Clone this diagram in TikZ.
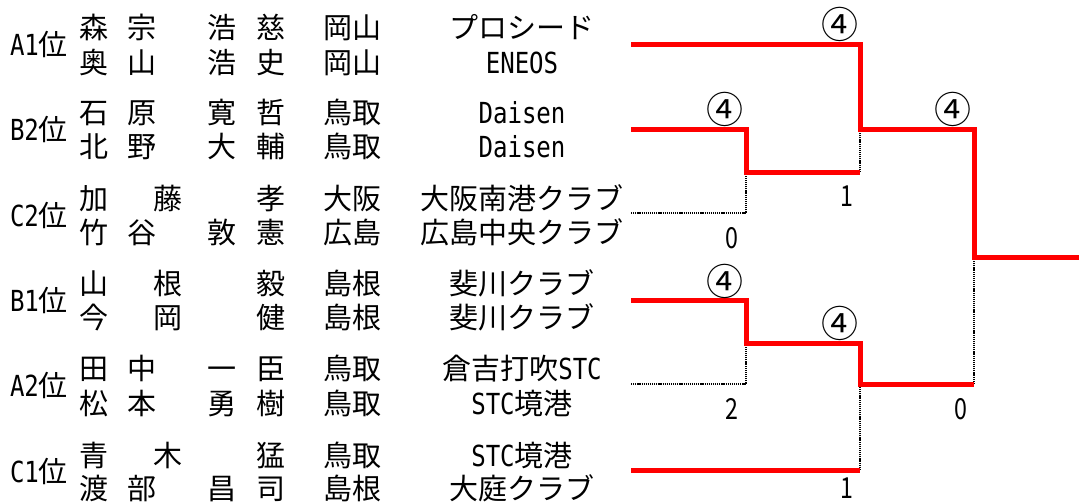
\documentclass[tikz,border=0pt]{standalone}
\usepackage{fontspec}
\setmainfont{Noto Sans CJK JP}
\newfontfamily\lat[FakeStretch=0.83]{DejaVu Sans Mono}
\newfontfamily\digs[FakeStretch=0.8]{Noto Sans CJK JP}
\tikzset{
  txt/.style={inner sep=0pt, font=\fontsize{29}{29}\selectfont, text height=25.5pt, text depth=3.5pt},
  circ/.style={inner sep=0pt, font=\fontsize{37}{37}\selectfont},
  win/.style={draw=red, line width=5pt},
  lose/.style={draw=black, line width=2pt, dash pattern=on 1.2pt off 0.9pt},
}
% full row: id, y, c1, c2, c3, c4, pref, team
\newcommand\prow[8]{%
  \node[txt] (#1a) at (94,#2) {#3};
  \node[txt] (#1b) at (142,#2) {#4};
  \node[txt] (#1c) at (222,#2) {#5};
  \node[txt] (#1d) at (271,#2) {#6};
  \node[txt] (#1p) at (352,#2) {#7};
  \node[txt] (#1t) at (522,#2) {#8};
}
% three-character row: id, y, c1, middle, c4, pref, team
\newcommand\prowm[7]{%
  \node[txt] (#1a) at (94,#2) {#3};
  \node[txt] (#1m) at (168,#2) {#4};
  \node[txt] (#1d) at (271,#2) {#5};
  \node[txt] (#1p) at (352,#2) {#6};
  \node[txt] (#1t) at (522,#2) {#7};
}
\begin{document}
\begin{tikzpicture}[x=1pt,y=-1pt]
\useasboundingbox (0,0) rectangle (1079,501);
% seed labels
\node[txt] (lA1) at (39,44.5) {{\lat A1}位};
\node[txt] (lB2) at (39,129) {{\lat B2}位};
\node[txt] (lC2) at (39,215) {{\lat C2}位};
\node[txt] (lB1) at (39,300) {{\lat B1}位};
\node[txt] (lA2) at (39,385.5) {{\lat A2}位};
\node[txt] (lC1) at (39,471.5) {{\lat C1}位};
% players
\prow{r1}{27}{森}{宗}{浩}{慈}{岡山}{プロシード}
\prow{r2}{62}{奥}{山}{浩}{史}{岡山}{{\lat ENEOS}}
\prow{r3}{112}{石}{原}{寛}{哲}{鳥取}{{\lat Daisen}}
\prow{r4}{146}{北}{野}{大}{輔}{鳥取}{{\lat Daisen}}
\prowm{r5}{198}{加}{藤}{孝}{大阪}{大阪南港クラブ}
\prow{r6}{232}{竹}{谷}{敦}{憲}{広島}{広島中央クラブ}
\prowm{r7}{283}{山}{根}{毅}{島根}{斐川クラブ}
\prowm{r8}{317}{今}{岡}{健}{島根}{斐川クラブ}
\prow{r9}{368}{田}{中}{一}{臣}{鳥取}{倉吉打吹{\lat STC}}
\prow{r10}{403}{松}{本}{勇}{樹}{鳥取}{{\lat STC}境港}
\prowm{r11}{455}{青}{木}{猛}{鳥取}{{\lat STC}境港}
\prow{r12}{488}{渡}{部}{昌}{司}{島根}{大庭クラブ}
% bracket coordinates
\coordinate (e1) at (631,44);
\coordinate (e2) at (631,129);
\coordinate (e3) at (631,213);
\coordinate (e4) at (631,300);
\coordinate (e5) at (631,384);
\coordinate (e6) at (631,470);
\coordinate (m1) at (746,172);
\coordinate (m2) at (746,343);
\coordinate (q1) at (860,129);
\coordinate (q2) at (860,384);
\coordinate (f) at (974,257);
\coordinate (out) at (1079,257);
% losing connectors
\draw[lose] (e3) -| (m1);
\draw[lose] (m1 -| q1) -- (q1);
\draw[lose] (e5) -| (m2);
\draw[lose] (e6 -| q2) -- (q2);
\draw[lose] (q2 -| f) -- (f);
% winning connectors
\draw[win] (e1) -| (q1) -| (f) -- (out);
\draw[win] (e2) -| (m1) -- (m1 -| q1);
\draw[win] (e4) -| (m2) -- (m2 -| q2) -- (q2) -- (q2 -| f);
\draw[win] (e6) -- (e6 -| q2);
% scores
\node[circ] (s1) at (840,24) {④};
\node[circ] (s2) at (725,109) {④};
\node[circ] (s3) at (953,109) {④};
\node[circ] (s4) at (725,281) {④};
\node[circ] (s5) at (840,323) {④};
\node[txt] (t1) at (732,237) {\digs 0};
\node[txt] (t2) at (847,195) {\digs 1};
\node[txt] (t3) at (732,408) {\digs 2};
\node[txt] (t4) at (961,408) {\digs 0};
\node[txt] (t5) at (847,487) {\digs 1};
\end{tikzpicture}
\end{document}
